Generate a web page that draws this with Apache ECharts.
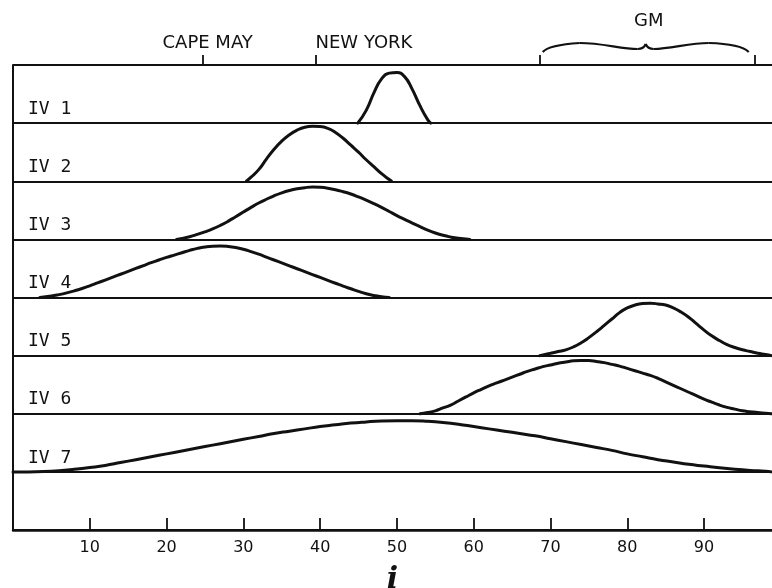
<!DOCTYPE html>
<html>
<head>
<meta charset="utf-8">
<script src="https://cdn.jsdelivr.net/npm/echarts@6/dist/echarts.min.js"></script>
<style>
  html, body { margin: 0; padding: 0; background: #fff; overflow: hidden; }
  #chart { width: 772px; height: 588px; }
</style>
</head>
<body>
<div id="chart"></div>
<script>
// Row names, top to bottom
const rowNames = ['IV 1', 'IV 2', 'IV 3', 'IV 4', 'IV 5', 'IV 6', 'IV 7'];

// Bottom axis tick labels
const xTickLabels = [10, 20, 30, 40, 50, 60, 70, 80, 90];

// Curve profiles: [i, height above the row baseline]
const iv1 = [[44.9,0],[46,0.22],[47,0.52],[48,0.76],[49,0.86],[50,0.87],[51,0.8],[52,0.58],[53,0.3],[54,0.06],[54.4,0]];
const iv2 = [[30.4,0],[31,0.07],[32,0.2],[33,0.38],[34,0.55],[35,0.69],[36,0.8],[37,0.88],[38,0.93],[39,0.945],[40,0.94],[41,0.91],[42,0.84],[43,0.74],[44,0.62],[45,0.5],[46,0.37],[47,0.25],[48,0.13],[49,0.03],[49.3,0]];
const iv3 = [[21.3,0],[22,0.015],[23,0.045],[24,0.085],[25,0.13],[26,0.18],[27,0.24],[28,0.31],[29,0.39],[30,0.47],[31,0.55],[32,0.625],[33,0.69],[34,0.75],[35,0.8],[36,0.84],[37,0.87],[38,0.89],[39,0.9],[40,0.895],[41,0.88],[42,0.855],[43,0.82],[44,0.78],[45,0.73],[46,0.675],[47,0.615],[48,0.55],[49,0.48],[50,0.41],[51,0.345],[52,0.28],[53,0.22],[54,0.16],[55,0.11],[56,0.07],[57,0.04],[58,0.018],[59,0.005],[59.5,0]];
const iv4 = [[3.5,0],[5,0.025],[6,0.05],[7,0.08],[8,0.115],[9,0.155],[10,0.2],[11,0.25],[12,0.3],[13,0.35],[14,0.4],[15,0.45],[16,0.5],[17,0.55],[18,0.6],[19,0.645],[20,0.69],[21,0.73],[22,0.77],[23,0.81],[24,0.845],[25,0.87],[26,0.883],[27,0.885],[28,0.878],[29,0.86],[30,0.83],[31,0.79],[32,0.745],[33,0.695],[34,0.645],[35,0.595],[36,0.545],[37,0.495],[38,0.445],[39,0.395],[40,0.345],[41,0.295],[42,0.245],[43,0.195],[44,0.15],[45,0.105],[46,0.065],[47,0.035],[48,0.012],[49,0]];
const iv5 = [[68.6,0],[70,0.04],[71,0.07],[72,0.1],[73,0.15],[74,0.22],[75,0.31],[76,0.41],[77,0.52],[78,0.63],[79,0.74],[80,0.82],[81,0.87],[82,0.895],[83,0.9],[84,0.89],[85,0.87],[86,0.82],[87,0.75],[88,0.66],[89,0.55],[90,0.44],[91,0.34],[92,0.26],[93,0.19],[94,0.14],[95,0.1],[96,0.07],[97,0.04],[98,0.02],[98.8,0]];
const iv6 = [[53,0],[54,0.02],[55,0.05],[56,0.1],[57,0.15],[58,0.22],[59,0.29],[60,0.36],[61,0.42],[62,0.48],[63,0.53],[64,0.58],[65,0.63],[66,0.68],[67,0.73],[68,0.77],[69,0.81],[70,0.84],[71,0.87],[72,0.89],[73,0.91],[74,0.915],[75,0.915],[76,0.9],[77,0.88],[78,0.85],[79,0.82],[80,0.78],[81,0.74],[82,0.7],[83,0.66],[84,0.61],[85,0.55],[86,0.49],[87,0.43],[88,0.37],[89,0.31],[90,0.25],[91,0.2],[92,0.15],[93,0.11],[94,0.08],[95,0.05],[96,0.035],[97,0.02],[98,0.01],[98.8,0]];
const iv7 = [[0,0],[2,0],[4,0.005],[6,0.02],[8,0.045],[10,0.075],[12,0.11],[14,0.16],[16,0.21],[18,0.26],[20,0.31],[22,0.36],[24,0.41],[26,0.46],[28,0.51],[30,0.56],[32,0.61],[34,0.66],[36,0.7],[38,0.74],[40,0.78],[42,0.81],[44,0.84],[46,0.86],[48,0.875],[50,0.88],[52,0.88],[54,0.87],[56,0.85],[58,0.82],[60,0.78],[62,0.74],[64,0.7],[66,0.66],[68,0.62],[70,0.57],[72,0.52],[74,0.47],[76,0.42],[78,0.37],[80,0.31],[82,0.26],[84,0.21],[86,0.17],[88,0.13],[90,0.1],[92,0.07],[94,0.045],[96,0.025],[98,0.01],[98.8,0]];

const curves = [iv1, iv2, iv3, iv4, iv5, iv6, iv7];

// Place marks along the top edge
const placeNames = ['CAPE MAY', 'NEW YORK'];
const placeX = [24.7, 39.4];
const gmName = 'GM';
const gmRange = [68.6, 96.6];

const X_MAX = 98.85;
const ROWS = 8;
const INK = '#111';

const chart = echarts.init(document.getElementById('chart'), null, { renderer: 'canvas', width: 772, height: 588 });

const series = curves.map((pts, k) => {
  const base = rowNames.length - k;   // IV 1 sits on the top row
  return {
    type: 'line',
    name: rowNames[k],
    showSymbol: false,
    symbol: 'none',
    smooth: 0.5,
    silent: true,
    lineStyle: { color: INK, width: 3, join: 'round', cap: 'round' },
    data: pts.map(([x, h]) => [x, base + h])
  };
});

chart.setOption({
  animation: false,
  backgroundColor: '#fff',
  grid: { left: 13, right: 0, top: 65, bottom: 58, containLabel: false, outerBoundsMode: 'none' },
  xAxis: [
    {
      type: 'value', min: 0, max: X_MAX, interval: 10, position: 'bottom',
      axisLine: { show: true, lineStyle: { color: INK, width: 2.5 } },
      axisTick: { show: true, inside: true, length: 12, customValues: xTickLabels, lineStyle: { color: INK, width: 1.8 } },
      splitLine: { show: false },
      axisLabel: {
        color: INK, fontSize: 16, margin: 10, fontFamily: 'DejaVu Sans',
        customValues: xTickLabels,
        formatter: v => String(Math.round(v))
      },
      name: 'i', nameLocation: 'middle', nameGap: 35,
      nameTextStyle: { color: INK, fontSize: 30, fontStyle: 'italic', fontWeight: 'bold', fontFamily: 'DejaVu Serif' }
    },
    {
      type: 'value', min: 0, max: X_MAX, position: 'top',
      axisLine: { show: false },
      axisTick: { show: true, inside: false, length: 10, customValues: placeX.concat(gmRange), lineStyle: { color: INK, width: 1.8 } },
      axisLabel: { show: false },
      splitLine: { show: false }
    }
  ],
  yAxis: {
    type: 'value', min: 0, max: ROWS, interval: 1,
    axisLine: { show: true, lineStyle: { color: INK, width: 2 } },
    axisTick: { show: false },
    axisLabel: { show: false },
    splitLine: { show: true, lineStyle: { color: INK, width: 1.8 } }
  },
  series: series
});

// Text and the GM brace, placed through the axes
function px(x, y) { return chart.convertToPixel({ xAxisIndex: 0, yAxisIndex: 0 }, [x, y]); }

const graphics = [];
const topY = px(0, ROWS)[1];
const leftX = px(0, 0)[0];

rowNames.forEach((name, k) => {
  const yb = px(0, rowNames.length - k)[1];
  graphics.push({
    type: 'text', x: leftX + 15, y: yb - 5,
    style: { text: name, fill: INK, font: '500 18px "DejaVu Sans Mono"', textAlign: 'left', textVerticalAlign: 'bottom' }
  });
});

// Place names above their ticks
const capeX = px(placeX[0], ROWS)[0];
graphics.push({
  type: 'text', x: capeX + 5, y: topY - 22,
  style: { text: placeNames[0], fill: INK, font: '18px "DejaVu Sans"', textAlign: 'center', textVerticalAlign: 'middle' }
});
const nyX = px(placeX[1], ROWS)[0];
graphics.push({
  type: 'text', x: nyX, y: topY - 22,
  style: { text: placeNames[1], fill: INK, font: '18px "DejaVu Sans"', textAlign: 'left', textVerticalAlign: 'middle' }
});

// Curly brace spanning the GM range
const gx0 = px(gmRange[0], ROWS)[0] + 3;
const gx1 = px(gmRange[1], ROWS)[0] - 6;
const gmid = (gx0 + gx1) / 2;
const yb = topY - 13, yh = topY - 22, yd = topY - 16, yc = topY - 21;
const braceStyle = { stroke: INK, lineWidth: 2.2, fill: 'none' };
const braceSegs = [
  { x1: gx0, y1: yb, cpx1: gx0 + 6, cpy1: yh + 2, x2: gx0 + 37, y2: yh },
  { x1: gx0 + 37, y1: yh, cpx1: gx0 + 60, cpy1: yh, cpx2: gmid - 25, cpy2: yd, x2: gmid - 8, y2: yd },
  { x1: gmid - 8, y1: yd, cpx1: gmid - 2, cpy1: yd, x2: gmid, y2: yc },
  { x1: gmid, y1: yc, cpx1: gmid + 2, cpy1: yd, x2: gmid + 8, y2: yd },
  { x1: gmid + 8, y1: yd, cpx1: gmid + 25, cpy1: yd, cpx2: gx1 - 60, cpy2: yh, x2: gx1 - 40, y2: yh },
  { x1: gx1 - 40, y1: yh, cpx1: gx1 - 8, cpy1: yh + 1, x2: gx1, y2: yb }
];
braceSegs.forEach(s => graphics.push({ type: 'bezierCurve', shape: s, style: braceStyle, silent: true }));

graphics.push({
  type: 'text', x: gmid + 3, y: topY - 44,
  style: { text: gmName, fill: INK, font: '18px "DejaVu Sans"', textAlign: 'center', textVerticalAlign: 'middle' }
});

chart.setOption({ graphic: graphics });
</script>
</body>
</html>
